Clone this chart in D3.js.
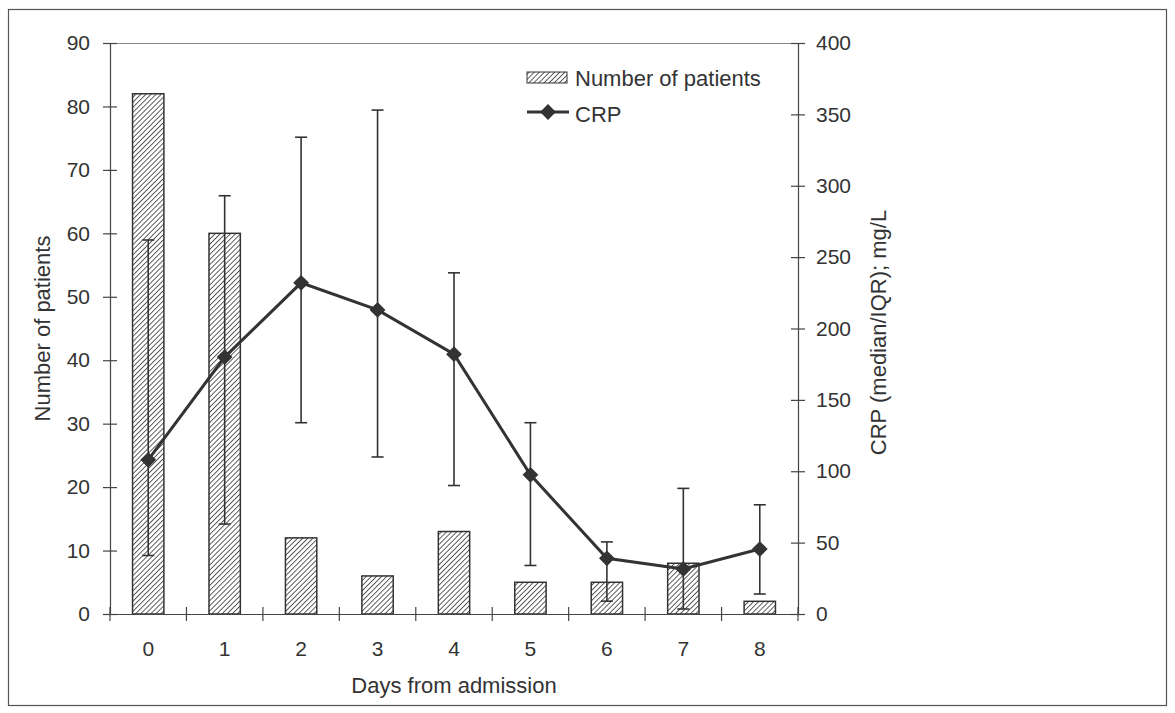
<!DOCTYPE html>
<html lang="en">
<head>
    <meta charset="UTF-8">
    <title>Patients and CRP by day</title>
    <script src="https://d3js.org/d3.v7.min.js"></script>
    <style>
        body { margin: 0; background: #fff; }
        text { font-family: "Liberation Sans", Arial, sans-serif; fill: #333; }
        .axis path, .axis line { stroke: #444; stroke-width: 1.2; }
        .crp-line { fill: none; stroke: #333; stroke-width: 3; }
    </style>
</head>
<body>
    <svg width="1175" height="713"></svg>
    <script>
        // data
        const days = ["0", "1", "2", "3", "4", "5", "6", "7", "8"];
        const patients = [82, 60, 12, 6, 13, 5, 5, 8, 2];
        const crpMedian = [108, 180, 232, 213, 182, 97.5, 39, 31.5, 45.5];
        const crpUpper = [262, 293, 334, 353, 239, 134, 50.5, 88, 76.5];
        const crpLower = [41, 63, 134, 110, 90, 34, 9, 3.5, 14];
        const leftTicks = [0, 10, 20, 30, 40, 50, 60, 70, 80, 90];
        const rightTicks = [0, 50, 100, 150, 200, 250, 300, 350, 400];

        const svg = d3.select("svg"),
              margin = { top: 43, right: 377, bottom: 99, left: 110 },
              width = +svg.attr("width") - margin.left - margin.right,
              height = +svg.attr("height") - margin.top - margin.bottom;

        // outer frame
        svg.append("rect")
            .attr("x", 8.5).attr("y", 9.5)
            .attr("width", 1158).attr("height", 696)
            .attr("fill", "none").attr("stroke", "#555").attr("stroke-width", 1.2);

        const defs = svg.append("defs");
        const pat = defs.append("pattern")
            .attr("id", "hatch")
            .attr("patternUnits", "userSpaceOnUse")
            .attr("width", 3.6).attr("height", 3.6)
            .attr("patternTransform", "rotate(45)");
        pat.append("rect").attr("width", 3.6).attr("height", 3.6).attr("fill", "#fff");
        pat.append("line")
            .attr("x1", 0).attr("y1", 0).attr("x2", 0).attr("y2", 3.6)
            .attr("stroke", "#2a2a2a").attr("stroke-width", 1.5);

        const g = svg.append("g").attr("transform", "translate(" + margin.left + "," + margin.top + ")");

        const x = d3.scaleBand().domain(days).range([0, width]).padding(0);
        const yLeft = d3.scaleLinear().domain([0, 90]).range([height, 0]);
        const yRight = d3.scaleLinear().domain([0, 400]).range([height, 0]);
        const barW = x.bandwidth() * 0.41;
        const cx = d => x(d) + x.bandwidth() / 2;

        // top border of plot area
        g.append("line")
            .attr("x1", 0).attr("x2", width).attr("y1", 0.5).attr("y2", 0.5)
            .attr("stroke", "#888").attr("stroke-width", 1);

        // bars
        g.selectAll(".bar")
            .data(days)
            .enter().append("rect")
            .attr("class", "bar")
            .attr("x", (d) => cx(d) - barW / 2)
            .attr("y", (d, i) => yLeft(patients[i]))
            .attr("width", barW)
            .attr("height", (d, i) => height - yLeft(patients[i]))
            .attr("fill", "url(#hatch)")
            .attr("stroke", "#333")
            .attr("stroke-width", 1.5);

        // left axis
        const axL = g.append("g").attr("class", "axis")
            .call(d3.axisLeft(yLeft).tickValues(leftTicks).tickSize(7).tickSizeOuter(0));
        axL.selectAll(".tick line").attr("x2", 7).attr("x1", -7);
        axL.selectAll("text").attr("x", -20).style("font-size", "21px");

        // right axis
        const axR = g.append("g").attr("class", "axis")
            .attr("transform", "translate(" + width + ",0)")
            .call(d3.axisRight(yRight).tickValues(rightTicks).tickSize(7).tickSizeOuter(0));
        axR.selectAll(".tick line").attr("x1", -7).attr("x2", 7);
        axR.selectAll("text").attr("x", 18).style("font-size", "21px");

        // bottom axis: ticks on category boundaries
        const axB = g.append("g").attr("class", "axis")
            .attr("transform", "translate(0," + height + ")")
            .call(d3.axisBottom(x).tickSize(0).tickSizeOuter(0));
        axB.selectAll("text").attr("y", 27).style("font-size", "21px");
        axB.selectAll(".bound")
            .data(d3.range(days.length + 1))
            .enter().append("line")
            .attr("class", "bound")
            .attr("x1", i => i * x.step()).attr("x2", i => i * x.step())
            .attr("y1", -7).attr("y2", 7);

        // error bars
        const err = g.selectAll(".err").data(days).enter().append("g").attr("class", "err")
            .attr("stroke", "#333").attr("stroke-width", 1.6);
        err.append("line")
            .attr("x1", cx).attr("x2", cx)
            .attr("y1", (d, i) => yRight(crpUpper[i]))
            .attr("y2", (d, i) => yRight(crpLower[i]));
        err.append("line")
            .attr("x1", d => cx(d) - 6).attr("x2", d => cx(d) + 6)
            .attr("y1", (d, i) => yRight(crpUpper[i])).attr("y2", (d, i) => yRight(crpUpper[i]));
        err.append("line")
            .attr("x1", d => cx(d) - 6).attr("x2", d => cx(d) + 6)
            .attr("y1", (d, i) => yRight(crpLower[i])).attr("y2", (d, i) => yRight(crpLower[i]));

        // CRP line
        const line = d3.line()
            .x((d, i) => cx(days[i]))
            .y(d => yRight(d));
        g.append("path").datum(crpMedian).attr("class", "crp-line").attr("d", line);

        const diamond = d3.symbol().type(d3.symbolSquare).size(125);
        g.selectAll(".mk").data(crpMedian).enter().append("path")
            .attr("class", "mk")
            .attr("d", diamond)
            .attr("transform", (d, i) => "translate(" + cx(days[i]) + "," + yRight(d) + ") rotate(45)")
            .attr("fill", "#333");

        // axis titles
        svg.append("text")
            .attr("transform", "translate(50," + (margin.top + height / 2) + ") rotate(-90)")
            .attr("text-anchor", "middle")
            .style("font-size", "22px")
            .text("Number of patients");
        svg.append("text")
            .attr("transform", "translate(886," + (margin.top + height / 2 + 4) + ") rotate(-90)")
            .attr("text-anchor", "middle")
            .style("font-size", "22px")
            .text("CRP (median/IQR); mg/L");
        svg.append("text")
            .attr("x", margin.left + width / 2).attr("y", 693)
            .attr("text-anchor", "middle")
            .style("font-size", "22px")
            .text("Days from admission");

        // legend
        const lg = svg.append("g");
        lg.append("rect")
            .attr("x", 527).attr("y", 72).attr("width", 40).attr("height", 11)
            .attr("fill", "url(#hatch)").attr("stroke", "#333").attr("stroke-width", 1);
        lg.append("text").attr("x", 575).attr("y", 86).style("font-size", "22px").text("Number of patients");
        lg.append("line")
            .attr("x1", 527).attr("x2", 569).attr("y1", 112).attr("y2", 112)
            .attr("stroke", "#333").attr("stroke-width", 3);
        lg.append("path").attr("d", diamond).attr("fill", "#333")
            .attr("transform", "translate(548,112) rotate(45)");
        lg.append("text").attr("x", 575).attr("y", 122).style("font-size", "22px").text("CRP");
    </script>
</body>
</html>
